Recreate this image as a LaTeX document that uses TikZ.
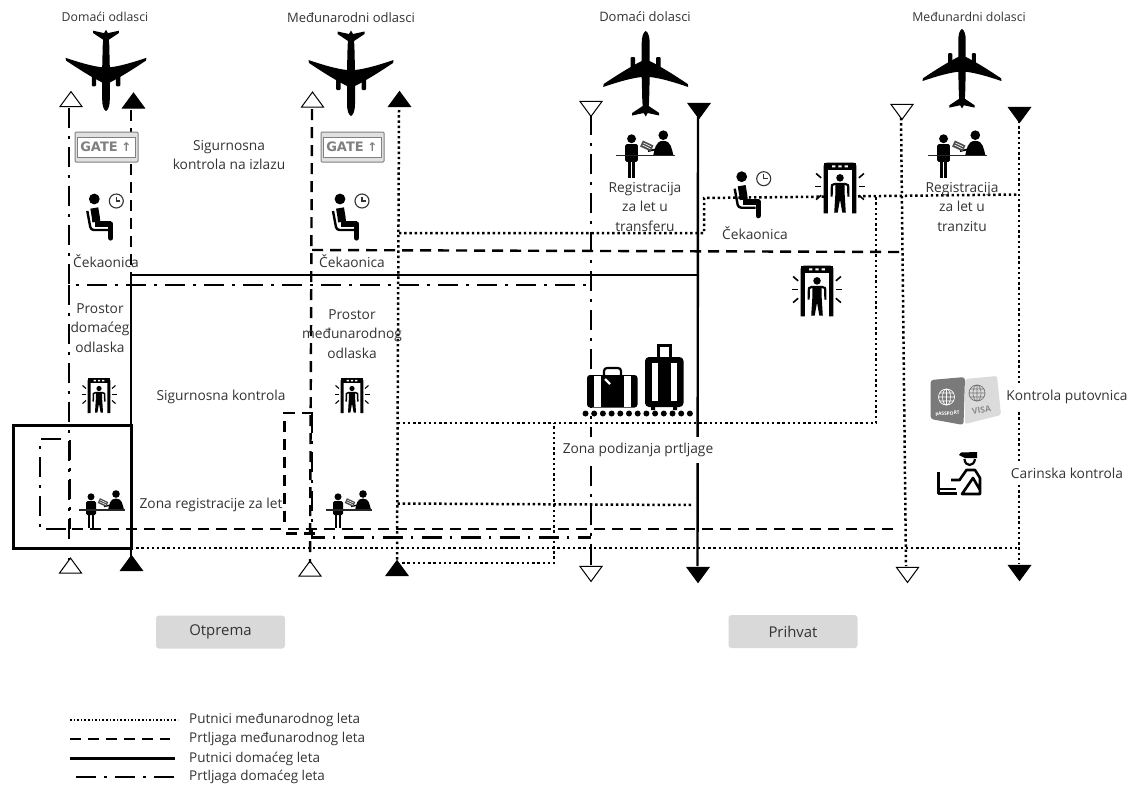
\documentclass[tikz,border=0pt]{standalone}
\usepackage{fontspec}
\setmainfont{Open Sans}
\newfontfamily\symfont{DejaVu Sans}
\usetikzlibrary{shapes.geometric}
\definecolor{ink}{HTML}{333333}
\definecolor{gatecol}{HTML}{808080}
\tikzset{
  paxIntl/.style={line width=2.5pt,dash pattern=on 2.4pt off 2.8pt,black},
  bagIntl/.style={line width=2.4pt,dash pattern=on 11pt off 7pt,black},
  paxDom/.style={line width=2.4pt,black},
  bagDom/.style={line width=2.4pt,dash pattern=on 20pt off 8pt on 2.5pt off 8.5pt,black},
  frameBox/.style={line width=3pt,black},
  triBase/.style={isosceles triangle,isosceles triangle stretches,minimum width=22pt,minimum height=15pt,inner sep=0pt,draw=black,line width=1pt},
  triOpenUp/.style={triBase,shape border rotate=90,fill=white},
  triFullUp/.style={triBase,shape border rotate=90,fill=black},
  triOpenDown/.style={triBase,shape border rotate=-90,fill=white},
  triFullDown/.style={triBase,shape border rotate=-90,fill=black},
  lab/.style={text=ink,font=\fontsize{13.75}{19.6}\selectfont,align=center,inner sep=0pt},
  labHead/.style={text=ink,font=\fontsize{12.3}{14}\selectfont,align=center,inner sep=0pt},
  legendLab/.style={text=ink,font=\fontsize{13.5}{15}\selectfont,anchor=west,inner sep=0pt},
  tag/.style={draw=none,fill=black!15,rounded corners=3pt,text=ink,font=\fontsize{14.9}{17}\selectfont,minimum width=129pt,minimum height=33pt,inner sep=0pt},
}
% plane: nose at origin
\newcommand\planeicon[4]{%
\begin{scope}[shift={(#1,#2)},rotate=#3,scale=#4]
\fill[black] (0,0) .. controls (2.5,1) and (4,6) .. (4,12) -- (4,30)
 .. controls (16,36) and (30,45) .. (42,53) -- (42.5,56) .. controls (28,51) and (14,47) .. (4,46)
 -- (3.4,70) -- (3,75) -- (13.5,82) -- (13.5,84.5) -- (2,82) -- (0,85.5)
 -- (-2,82) -- (-13.5,84.5) -- (-13.5,82) -- (-3,75) -- (-3.4,70) -- (-4,46)
 .. controls (-14,47) and (-28,51) .. (-42.5,56) -- (-42,53) .. controls (-30,45) and (-16,36) .. (-4,30)
 -- (-4,12) .. controls (-4,6) and (-2.5,1) .. (0,0) -- cycle;
\fill[black,rounded corners=1pt] (10.5,26) rectangle (15,38);
\fill[black,rounded corners=1pt] (-10.5,26) rectangle (-15,38);
\end{scope}}
% security gate
\newcommand\walkicon[3]{%
\begin{scope}[shift={(#1,#2)},scale=#3]
\fill[white] (-10,-15) rectangle (10,17.5);
\draw[black,line width=#3*3pt,line join=round,rounded corners=1pt] (-9.8,17.5) -- (-9.8,-16) -- (9.8,-16) -- (9.8,17.5);
\fill[black] (-11.2,-17.5) rectangle (11.2,-12.3);
\fill[white] (-5.4,-15.6) rectangle (-3.2,-14.2) (-1.1,-15.6) rectangle (1.1,-14.2) (3.2,-15.6) rectangle (5.4,-14.2);
\fill[black] (0,-7) circle (2.6);
\fill[black] (-3.2,-3.6) -- (3.2,-3.6) -- (3.2,4) -- (4,17) -- (1.6,17) -- (0,8) -- (-1.6,17) -- (-4,17) -- (-3.2,4) -- cycle;
\draw[black,line width=#3*1.5pt,line join=round] (-3,-3) -- (-5.6,-2) -- (-5.8,6);
\draw[black,line width=#3*1.5pt,line join=round] (3,-3) -- (5.6,-2) -- (5.8,6);
\foreach \sx in {-1,1}{
 \draw[black,line width=#3*1.1pt] (\sx*13,-7) -- (\sx*16.5,-10);
 \draw[black,line width=#3*1.1pt] (\sx*13,-1) -- (\sx*17.5,-1);
 \draw[black,line width=#3*1.1pt] (\sx*13,5) -- (\sx*16.5,8);
}
\end{scope}}
% seated person with clock
\newcommand\seaticon[2]{%
\begin{scope}[shift={(#1,#2)}]
\fill[black] (0,0) circle (5.4);
\draw[black,line width=8pt,line join=round] (0,9) -- (1.5,18) -- (2,23);
\draw[black,line width=6pt,line join=round] (1,25) -- (16.5,25);
\draw[black,line width=5.2pt,line cap=round] (16.5,25) -- (16.5,39);
\draw[black,line width=2.4pt,line join=round,rounded corners=3pt] (-7,12) -- (-3.5,31) -- (14,31);
\draw[ink,line width=1.1pt] (22,2) circle (7);
\draw[ink,line width=1.1pt] (22,-2.5) -- (22,2) -- (26,2);
\end{scope}}
% check-in desk
\newcommand\checkicon[3]{%
\begin{scope}[shift={(#1,#2)},scale=#3]
\fill[black] (-11,-13.2) circle (3.5);
\fill[black,rounded corners=1.5pt] (-16,-9) rectangle (-6,5);
\draw[black,line width=#3*2.3pt] (-12.8,4) -- (-12.8,17.5);
\draw[black,line width=#3*2.3pt] (-9.2,4) -- (-9.2,17.5);
\fill[black] (14,-16) circle (3.8);
\fill[black] (6,0) .. controls (7.5,-5) and (7.5,-11.5) .. (14,-11.5) .. controls (20.5,-11.5) and (20.5,-5) .. (22,0) -- cycle;
\draw[black,line width=#3*1.4pt] (9,-5) -- (2,-3.5);
\begin{scope}[shift={(1,-7.5)},rotate=-25]
\fill[black!70] (-4.6,-2.6) rectangle (4.6,2.6);
\draw[white,line width=#3*0.5pt] (-3.4,-1) -- (3.4,-1) (-3.4,0.8) -- (3.4,0.8);
\end{scope}
\draw[black!85,line width=#3*1.2pt] (-23,0) -- (23,0);
\end{scope}}
% gate sign
\newcommand\gateicon[2]{%
\begin{scope}[shift={(#1,#2)}]
\draw[gatecol,fill=black!12,line width=1pt,rounded corners=1pt] (-31.5,-15) rectangle (31.5,15);
\draw[gatecol,fill=white,line width=1pt] (-29,-10) rectangle (29,10);
\node[inner sep=0pt,text=gatecol,font=\symfont\fontsize{13}{14}\selectfont\bfseries] at (-7.5,-0.3) {GATE};
\node[inner sep=0pt,text=gatecol,font=\symfont\fontsize{12}{14}\selectfont\bfseries] at (20,-0.3) {↑};
\end{scope}}
\begin{document}
\begin{tikzpicture}[x=1pt,y=-1pt]
\useasboundingbox (0,0) rectangle (1131,785);
\fill[white] (0,0) rectangle (1131,785);

% ---- arrow-ends (triangles)
\node[triOpenUp]   (t1) at (71,101) {};
\node[triFullUp]   (t2) at (133.5,102.5) {};
\node[triOpenUp]   (t3) at (312.5,101.5) {};
\node[triFullUp]   (t4) at (399.5,101) {};
\node[triOpenDown] (t5) at (591,107) {};
\node[triFullDown] (t6) at (699,109) {};
\node[triOpenDown] (t7) at (902,110) {};
\node[triFullDown] (t8) at (1019.5,113) {};
\node[triOpenUp]   (b1) at (70.5,567.5) {};
\node[triFullUp]   (b2) at (131.5,565) {};
\node[triOpenUp]   (b3) at (310,570.5) {};
\node[triFullUp]   (b4) at (397,570) {};
\node[triOpenDown] (b5) at (591,572) {};
\node[triFullDown] (b6) at (698,573) {};
\node[triOpenDown] (b7) at (907.5,573) {};
\node[triFullDown] (b8) at (1019.5,571) {};

% ---- junctions
\coordinate (a1top) at (69,108);   \coordinate (a1cor) at (69,285);  \coordinate (a1bot) at (69,560);
\coordinate (a2top) at (131,110);  \coordinate (a2mid) at (131,274); \coordinate (a2bot) at (131,558);
\coordinate (a3top) at (312,109);  \coordinate (a3cor) at (312,250); \coordinate (a3bot) at (310,563);
\coordinate (a4top) at (399,110);  \coordinate (a4bot) at (397,563);
\coordinate (a5top) at (591,115);  \coordinate (a5bot) at (591,565);
\coordinate (a6top) at (698,117);  \coordinate (a6bot) at (697.5,566);
\coordinate (a7top) at (901,118);  \coordinate (a7bot) at (906,566);
\coordinate (a8top) at (1019,121); \coordinate (a8bot) at (1019,564);

\coordinate (h285r) at (591,285);
\coordinate (h275r) at (697,275);  \coordinate (h275l) at (131,275);
\coordinate (h250r) at (904,252);
\coordinate (h233l) at (399,233);  \coordinate (h233c) at (704,233);
\coordinate (h198a) at (704,198);  \coordinate (h198b) at (1018,194.5);
\coordinate (h423l) at (397.5,423);\coordinate (h423c) at (876,423); \coordinate (h423t) at (876,196.5);
\coordinate (h504l) at (397.5,503.5); \coordinate (h504r) at (693,505);
\coordinate (h563l) at (397,563);  \coordinate (h563c) at (554,563); \coordinate (h563t) at (554,423);
\coordinate (h548l) at (131,548);  \coordinate (h548r) at (1019,548);
\coordinate (h529r) at (900,529);
\coordinate (lpA) at (61,439);  \coordinate (lpB) at (40,439); \coordinate (lpC) at (40,529); \coordinate (lpD) at (72,529);
\coordinate (ilA) at (313,413); \coordinate (ilB) at (284.5,413); \coordinate (ilC) at (284.5,528.5);
\coordinate (ilE) at (286,533.5); \coordinate (ilF) at (315,533.5);
\coordinate (dlA) at (312,413); \coordinate (dlB) at (312,537.5); \coordinate (dlC) at (591,537.5);
\coordinate (bxA) at (13,425); \coordinate (bxB) at (131,425); \coordinate (bxC) at (131,548); \coordinate (bxD) at (13,548);

% ---- domestic baggage
\draw[bagDom,line join=miter] (a1top) -- (a1cor) -- (h285r);
\draw[bagDom] (a1cor) -- (a1bot);
\draw[bagDom] (lpA) -- (lpB) -- (lpC) -- (lpD);
\draw[bagDom] (70,440) -- (70,529);
\draw[bagDom] (dlA) -- (dlB) -- (dlC);
\draw[bagDom] (a5top) -- (a5bot);
\draw[paxDom] (a5top) -- (591,134);
\draw[paxDom] (591,232) -- (591,250);
\draw[paxDom] (591,505) -- (591,523);
\draw[paxDom] (591,553) -- (a5bot);
% ---- domestic passengers
\draw[bagIntl] (a2top) -- (a2mid);
\draw[paxDom] (a2mid) -- (a2bot);
\draw[paxDom] (h275l) -- (h275r);
\draw[paxDom] (a6top) -- (a6bot);
\draw[frameBox] (bxB) -- (bxA) -- (bxD) -- (bxC) -- cycle;
% ---- international baggage
\draw[bagIntl] (a3top) -- (a3bot);
\draw[bagIntl] (a3cor) -- (h250r);
\draw[bagIntl] (ilA) -- (ilB) -- (ilC);
\draw[bagIntl] (ilE) -- (ilF);
\draw[bagIntl] (lpD) -- (h529r);
% ---- international passengers
\draw[paxIntl] (a4top) -- (a4bot);
\draw[paxIntl] (h233l) -- (h233c) -- (h198a) -- (h198b);
\draw[paxIntl] (h423l) -- (h423c) -- (h423t);
\draw[paxIntl] (h504l) -- (h504r);
\draw[paxIntl] (h563l) -- (h563c) -- (h563t);
\draw[paxIntl] (h548l) -- (h548r);
\draw[paxIntl] (a7top) -- (a7bot);
\draw[paxIntl] (a8top) -- (a8bot);

% ---- planes
\planeicon{106}{111}{180}{0.95}
\planeicon{351}{116}{180}{1}
\planeicon{645.7}{31}{0}{1}
\planeicon{962}{29}{0}{0.93}

% ---- icons
\gateicon{106.5}{147}
\gateicon{352.5}{147}
\seaticon{94.3}{199}
\seaticon{340}{199}
\seaticon{741.7}{176.7}
\walkicon{99}{395.5}{1}
\walkicon{352}{395.5}{1}
\walkicon{840}{188}{1.45}
\walkicon{817}{291}{1.45}
\checkicon{102}{510}{1}
\checkicon{349}{510}{1}
\checkicon{645.5}{155.5}{1.27}
\checkicon{957.5}{155.5}{1.27}

% ---- luggage
\fill[black,rounded corners=3pt] (587,375) rectangle (637.5,407.5);
\fill[white] (593.5,376) rectangle (600.5,407);
\fill[white] (624,376) rectangle (630.5,407);
\draw[black,line width=2.2pt,rounded corners=3pt] (604,375) -- (604,368) -- (621,368) -- (621,375);
\draw[white,line width=2.4pt] (605,379) -- (610,384);
\fill[black,rounded corners=4pt] (645,357) rectangle (683.5,407);
\fill[white] (652,363) rectangle (658,401);
\fill[white] (671,363) rectangle (677,401);
\draw[black,line width=2.2pt] (658.5,357) -- (658.5,345.5) -- (670.5,345.5) -- (670.5,357);
\fill[black] (651,406) rectangle (655,410) (673,406) rectangle (677,410);
\foreach \i in {0,...,12}{\fill[black] ({585.5+8.7*\i},413.5) circle (3);}

% ---- passport and visa
\fill[black!14,rounded corners=2pt] (965,379) -- (997,376) -- (1001,415) -- (965,424) -- cycle;
\draw[black!55,line width=0.7pt] (977,393) circle (8) (969,393) -- (985,393) (977,385) -- (977,401);
\draw[black!55,line width=0.6pt] (977,393) ellipse (4 and 8) (970,389) -- (984,389) (970,397) -- (984,397);
\node[inner sep=0pt,rotate=10,text=black!45,font=\fontsize{8.5}{10}\selectfont\bfseries] (visaTxt) at (981.5,410) {VISA};
\fill[black!52,rounded corners=3pt] (930.5,380) -- (965,377) -- (963.5,425) -- (930.5,419) -- cycle;
\draw[white,line width=0.7pt] (946.5,397) circle (8) (938.5,397) -- (954.5,397) (946.5,389) -- (946.5,405);
\draw[white,line width=0.6pt] (946.5,397) ellipse (4 and 8) (939.5,393) -- (953.5,393) (939.5,401) -- (953.5,401);
\node[inner sep=0pt,rotate=4,text=white,font=\fontsize{4.8}{6}\selectfont\bfseries] (passTxt) at (947.5,413.5) {PASSPORT};

% ---- customs officer
\begin{scope}[line width=2.6pt,black,line join=round]
\fill (959,455) -- (961,452.5) -- (977,452) -- (977,458) -- (965,458) -- cycle;
\draw[line width=2.2pt] (964.5,459) .. controls (965,467) and (974,467) .. (975,459);
\draw (938.5,472) -- (938.5,493.5) -- (957,493.5);
\draw (939,489) -- (956,489);
\draw (951,480) -- (959.5,480) -- (966.5,470) -- (975,470) -- (980,478) -- (980,494) -- (962,494) -- (973,478) -- (980,490);
\end{scope}

% ---- labels
\node[labHead] (h1) at (105,17) {Domaći odlasci};
\node[labHead,font=\fontsize{13}{14}\selectfont] (h2) at (351,18) {Međunarodni odlasci};
\node[labHead,font=\fontsize{13}{14}\selectfont] (h3) at (645,17) {Domaći dolasci};
\node[labHead] (h4) at (969,17) {Međunardni dolasci};
\node[lab] (l1) at (229,155) {Sigurnosna\\kontrola na izlazu};
\node[lab] (l2) at (106,261) {Čekaonica};
\node[lab] (l3) at (352,261) {Čekaonica};
\node[lab] (l4) at (755,233) {Čekaonica};
\node[lab] (l5) at (100,328) {Prostor\\domaćeg\\odlaska};
\node[lab] (l6) at (352,334) {Prostor\\međunarodnog\\odlaska};
\node[lab] (l7) at (221,397) {Sigurnosna kontrola};
\node[lab] (l8) at (211,505) {Zona registracije za let};
\node[lab] (l9) at (645,207) {Registracija\\za let u\\transferu};
\node[lab] (l10) at (962,207) {Registracija\\za let u\\tranzitu};
\node[lab,fill=white,inner ysep=6pt,inner xsep=0pt] (l11) at (638,450) {Zona podizanja prtljage};
\node[lab,fill=white,inner ysep=6pt,inner xsep=0pt] (l12) at (1067,397) {Kontrola putovnica};
\node[lab,fill=white,inner ysep=7pt,inner xsep=0pt] (l13) at (1067,473) {Carinska kontrola};

\node[tag] (otp) at (220.5,632) {Otprema};
\node[tag] (pri) at (793,631.5) {Prihvat};

% ---- legend
\coordinate (lg1a) at (70,720); \coordinate (lg1b) at (178,720);
\coordinate (lg2a) at (70,739); \coordinate (lg2b) at (170,739);
\coordinate (lg3a) at (70,758.5); \coordinate (lg3b) at (175,758.5);
\coordinate (lg4a) at (76,777); \coordinate (lg4b) at (175,777);
\draw[paxIntl,line width=1.6pt,dash pattern=on 1.6pt off 2pt] (lg1a) -- (lg1b);
\draw[bagIntl] (lg2a) -- (lg2b);
\draw[paxDom] (lg3a) -- (lg3b);
\draw[bagDom] (lg4a) -- (lg4b);
\node[legendLab] (t1l) at (189,719.5) {Putnici međunarodnog leta};
\node[legendLab] (t2l) at (189,739) {Prtljaga međunarodnog leta};
\node[legendLab] (t3l) at (189,758.5) {Putnici domaćeg leta};
\node[legendLab] (t4l) at (189,777) {Prtljaga domaćeg leta};
\end{tikzpicture}
\end{document}
